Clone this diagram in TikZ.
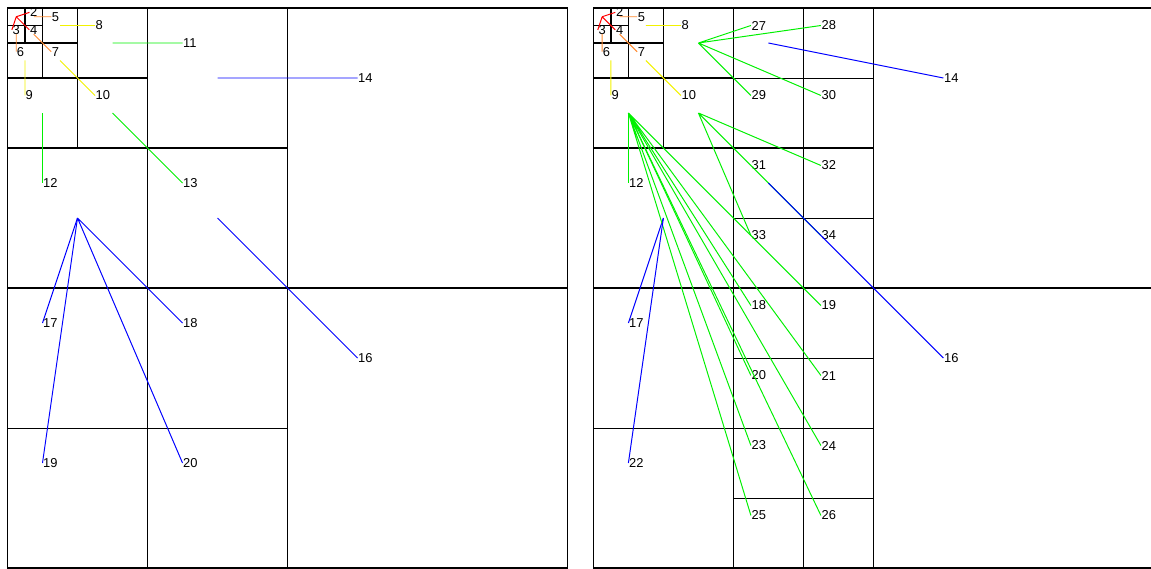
\documentclass[tikz,border=0pt]{standalone}
\usepackage{fontspec}
\setmainfont{Liberation Sans}
\usepackage{tikz}
\usetikzlibrary{positioning}
\definecolor{QTred}{HTML}{FF0000}
\definecolor{QTorange}{HTML}{FF8A30}
\definecolor{QTyellow}{HTML}{F2F200}
\definecolor{QTgreen}{HTML}{00F000}
\definecolor{QTblue}{HTML}{0000FF}

% the corner shared by both panels
\newcommand{\quadCorner}{%
  \draw[cellline] (0,0) rectangle (16,16);
  \draw[cellline] (8,0) -- (8,16) (0,8) -- (16,8);
  \draw[cellline] (4,0) -- (4,8) (0,4) -- (8,4);
  \draw[cellline] (2,0) -- (2,4) (0,2) -- (4,2);
  \draw[cellline] (1,0) -- (1,2) (0,1) -- (2,1);
  \draw[cellline] (0.5,0) -- (0.5,1) (0,0.5) -- (1,0.5);
  \coordinate (c1) at (0.25,0.25);
  \coordinate (c2) at (0.75,0.25);
  \coordinate (c3) at (0.25,0.75);
  \coordinate (c4) at (0.75,0.75);
  \coordinate (c5) at (1.5,0.5);
  \coordinate (c6) at (0.5,1.5);
  \coordinate (c7) at (1.5,1.5);
  \coordinate (c8) at (3,1);
  \coordinate (c9) at (1,3);
  \coordinate (c10) at (3,3);
  \coordinate (c12) at (2,6);
  \node[num] (n2) at (0.625,0.125) {2};
  \node[num] (n3) at (0.125,0.625) {3};
  \node[num] (n4) at (0.625,0.625) {4};
  \node[num] (n5) at (1.25,0.25) {5};
  \node[num] (n6) at (0.25,1.25) {6};
  \node[num] (n7) at (1.25,1.25) {7};
  \node[num] (n8) at (2.5,0.5) {8};
  \node[num] (n9) at (0.5,2.5) {9};
  \node[num] (n10) at (2.5,2.5) {10};
  \node[num] (n12) at (1,5) {12};
  \node[num] (n14) at (10,2) {14};
  \node[num] (n16) at (10,10) {16};
  \node[num] (n17) at (1,9) {17};
  \draw[link, QTred] (c1) -- (n2.west) (c1) -- (n3.west) (c1) -- (n4.west);
  \draw[link, QTorange] (c2) -- (n5.west) (c3) -- (n6.west) (c4) -- (n7.west);
  \draw[link, QTyellow] (c5) -- (n8.west) (c6) -- (n9.west) (c7) -- (n10.west);
  \draw[link, QTgreen] (c9) -- (n12.west);
  \draw[link, QTblue] (c12) -- (n17.west);
}

\begin{document}
\begin{tikzpicture}[x=1cm, y=-1cm,
    cellline/.style={line width=1.4pt, black},
    fineline/.style={line width=0.8pt, black},
    link/.style={line width=0.8pt},
    num/.style={anchor=west, inner sep=0.4pt, font=\fontsize{10.5}{12}\selectfont}]
  \clip (-0.2143,-0.2286) rectangle (32.671,16);

  % left panel
  \begin{scope}[name prefix=L-]
    \draw[fineline] (4,8) -- (4,16) (0,12) -- (8,12);
    \quadCorner
    \coordinate (c11) at (6,2);
    \coordinate (c13) at (6,6);
    \node[num] (n11) at (5,1) {11};
    \node[num] (n13) at (5,5) {13};
    \node[num] (n18) at (5,9) {18};
    \node[num] (n19) at (1,13) {19};
    \node[num] (n20) at (5,13) {20};
    \draw[link, QTgreen] (c8) -- (n11.west) (c10) -- (n13.west);
    \draw[link, QTblue] (c11) -- (n14.west) (c13) -- (n16.west);
    \draw[link, QTblue] (c12) -- (n18.west) (c12) -- (n19.west) (c12) -- (n20.west);
  \end{scope}

  % right panel
  \begin{scope}[name prefix=R-, xshift=16.74cm]
    \draw[fineline] (6,0) -- (6,16) (4,8) -- (4,16) (0,12) -- (8,12);
    \draw[fineline] (4,2) -- (8,2) (4,6) -- (8,6) (4,10) -- (8,10) (4,14) -- (8,14);
    \quadCorner
    \coordinate (c27) at (5,1);
    \coordinate (c31) at (5,5);
    \node[num] (n27) at (4.5,0.5) {27};
    \node[num] (n28) at (6.5,0.5) {28};
    \node[num] (n29) at (4.5,2.5) {29};
    \node[num] (n30) at (6.5,2.5) {30};
    \node[num] (n31) at (4.5,4.5) {31};
    \node[num] (n32) at (6.5,4.5) {32};
    \node[num] (n33) at (4.5,6.5) {33};
    \node[num] (n34) at (6.5,6.5) {34};
    \node[num] (n18) at (4.5,8.5) {18};
    \node[num] (n19) at (6.5,8.5) {19};
    \node[num] (n20) at (4.5,10.5) {20};
    \node[num] (n21) at (6.5,10.5) {21};
    \node[num] (n22) at (1,13) {22};
    \node[num] (n23) at (4.5,12.5) {23};
    \node[num] (n24) at (6.5,12.5) {24};
    \node[num] (n25) at (4.5,14.5) {25};
    \node[num] (n26) at (6.5,14.5) {26};
    \draw[link, QTgreen] (c8) -- (n27.west) (c8) -- (n28.west) (c8) -- (n29.west) (c8) -- (n30.west);
    \draw[link, QTgreen] (c10) -- (n31.west) (c10) -- (n32.west) (c10) -- (n33.west) (c10) -- (n34.west);
    \draw[link, QTgreen] (c9) -- (n18.west) (c9) -- (n19.west) (c9) -- (n20.west) (c9) -- (n21.west);
    \draw[link, QTgreen] (c9) -- (n23.west) (c9) -- (n24.west) (c9) -- (n25.west) (c9) -- (n26.west);
    \draw[link, QTblue] (c27) -- (n14.west) (c31) -- (n16.west) (c12) -- (n22.west);
  \end{scope}
\end{tikzpicture}
\end{document}
